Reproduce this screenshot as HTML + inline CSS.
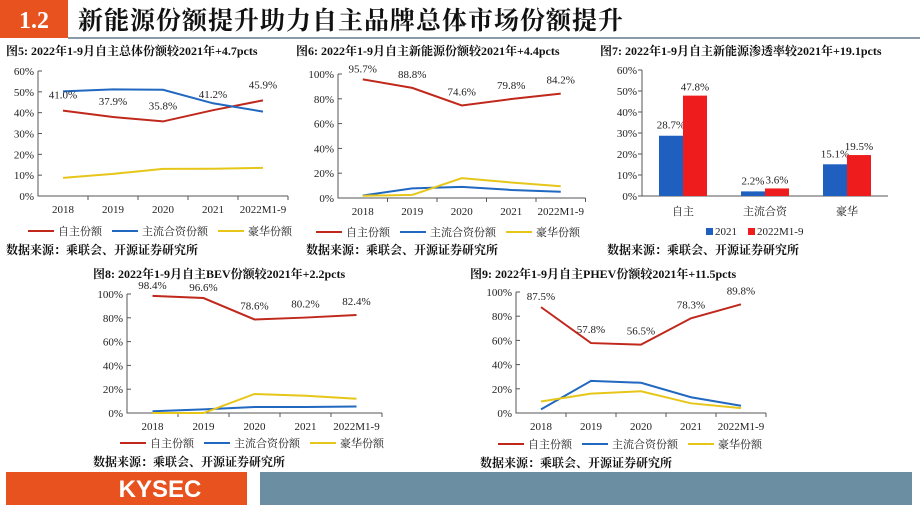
<!DOCTYPE html>
<html><head><meta charset="utf-8">
<style>
html,body{margin:0;padding:0;background:#fff;}
svg{display:block;font-family:"Liberation Serif","Noto Serif CJK SC",serif;}
</style></head><body>
<svg id="s" width="920" height="518" viewBox="0 0 920 518" xmlns="http://www.w3.org/2000/svg">
<rect x="0" y="0" width="68" height="38" fill="#e8521e"/>
<text x="34" y="28" text-anchor="middle" fill="#fff" font-size="24" font-weight="bold">1.2</text>
<text x="78" y="29" fill="#111" font-size="25" font-weight="bold" letter-spacing="1">新能源份额提升助力自主品牌总体市场份额提升</text>
<line x1="68" y1="38" x2="920" y2="38" stroke="#8a9aa8" stroke-width="2"/>
<rect x="6" y="472" width="241" height="33" fill="#e8521e"/>
<text x="160" y="497" text-anchor="middle" fill="#fff" font-size="24" font-weight="bold" font-family="Liberation Sans, sans-serif">KYSEC</text>
<rect x="260" y="472" width="652" height="33" fill="#6b8ea3"/>
<g id="g"></g>
</svg>
<script>
const years = ["2018","2019","2020","2021","2022M1-9"];
const seriesNames = ["自主份额","主流合资份额","豪华份额"];
const c5Own = [41.0,37.9,35.8,41.2,45.9];
const c5Jv = [50.2,51.2,51.0,44.5,40.5];
const c5Lux = [8.7,10.6,13.0,13.1,13.5];
const c5Ticks = ["0%","10%","20%","30%","40%","50%","60%"];
const c6Own = [95.7,88.8,74.6,79.8,84.2];
const c6Jv = [2.0,7.8,9.0,6.5,5.0];
const c6Lux = [1.8,2.5,16.0,12.5,9.5];
const c8Own = [98.4,96.6,78.6,80.2,82.4];
const c8Jv = [1.5,3.0,5.0,5.0,5.5];
const c8Lux = [0,0,16.0,14.5,12.0];
const c9Own = [87.5,57.8,56.5,78.3,89.8];
const c9Jv = [3.0,26.5,25.0,13.0,6.0];
const c9Lux = [9.5,16.0,18.0,8.0,4.0];
const pctTicks100 = ["0%","20%","40%","60%","80%","100%"];
const c7Cats = ["自主","主流合资","豪华"];
const c7Y2021 = [28.7,2.2,15.1];
const c7Y2022 = [47.8,3.6,19.5];
const c7Series = ["2021","2022M1-9"];

const NS="http://www.w3.org/2000/svg", G=document.getElementById('g');
function el(t,a,txt){const e=document.createElementNS(NS,t);for(const k in a)e.setAttribute(k,a[k]);if(txt!==undefined)e.textContent=txt;G.appendChild(e);return e;}
const COL=["#c0281c","#2068c0","#e6c619"];

function lineChart(o){
  const t=el('text',{x:o.tx,y:o.ty,'font-size':12,'font-weight':'bold',fill:'#111'},o.title);
  
  const y=v=>o.y0-(v/o.max)*(o.y0-o.y1);
  const x=i=>o.x0+o.step*(i+0.5);
  const xe=o.x0+o.step*years.length;
  o.ticks.forEach((lab,i)=>{const v=o.max*i/(o.ticks.length-1);
    const e=el('text',{x:o.x0-4,y:y(v)+4,'text-anchor':'end','font-size':11,fill:'#222'},lab);
    
    const l=el('line',{x1:o.x0,x2:o.x0+4,y1:y(v),y2:y(v),stroke:'#555'});
    });
  const ax=el('path',{d:`M${o.x0},${o.y1}V${o.y0}H${xe}`,stroke:'#555',fill:'none'});
  
  years.forEach((c,i)=>{const tm=el('line',{x1:o.x0+o.step*(i+1),x2:o.x0+o.step*(i+1),y1:o.y0,y2:o.y0+4,stroke:'#555'});
    
    const e=el('text',{x:x(i),y:o.y0+17,'text-anchor':'middle','font-size':11,fill:'#222'},c);
    });
  o.series.forEach((s,k)=>{
    const p=el('polyline',{points:s.map((v,i)=>x(i)+','+y(v)).join(' '),fill:'none',stroke:COL[k],'stroke-width':2});
    });
  o.series[0].forEach((v,i)=>{const e=el('text',{x:x(i)+(o.lx?o.lx[i]:0),y:y(v)+(o.ly?o.ly[i]:-8),'text-anchor':'middle','font-size':11,fill:'#222'},v.toFixed(1)+'%');
    });
  let lx=o.legx;
  seriesNames.forEach((n,k)=>{const l=el('line',{x1:lx,x2:lx+26,y1:o.legy,y2:o.legy,stroke:COL[k],'stroke-width':2});
    
    const e=el('text',{x:lx+30,y:o.legy+4,'font-size':11,fill:'#222'},n);
    
    lx+=30+n.length*11+10;});
  const s=el('text',{x:o.sx,y:o.sy,'font-size':12,'font-weight':'bold',fill:'#111'},'数据来源：乘联会、开源证券研究所');
  
}
lineChart({id:'fig5',title:'图5:  2022年1-9月自主总体份额较2021年+4.7pcts',tx:6,ty:55,x0:38,step:50,y0:196,y1:71,max:60,ticks:c5Ticks,
  series:[c5Own,c5Jv,c5Lux],ly:[-12,-12,-12,-12,-12],legx:28,legy:231,sx:6,sy:254});
lineChart({id:'fig6',title:'图6:  2022年1-9月自主新能源份额较2021年+4.4pcts',tx:296,ty:55,x0:338,step:49.5,y0:198,y1:74,max:100,ticks:pctTicks100,
  series:[c6Own,c6Jv,c6Lux],ly:[-7,-10,-10,-10,-10],legx:316,legy:232,sx:306,sy:254});
lineChart({id:'fig8',title:'图8:  2022年1-9月自主BEV份额较2021年+2.2pcts',tx:93,ty:278,x0:127,step:51,y0:413,y1:294,max:100,ticks:pctTicks100,
  series:[c8Own,c8Jv,c8Lux],ly:[-7,-7,-10,-10,-10],legx:120,legy:443,sx:93,sy:466});
lineChart({id:'fig9',title:'图9:  2022年1-9月自主PHEV份额较2021年+11.5pcts',tx:470,ty:278,x0:516,step:50,y0:413,y1:292,max:100,ticks:pctTicks100,
  series:[c9Own,c9Jv,c9Lux],ly:[-7,-10,-10,-10,-10],legx:498,legy:444,sx:480,sy:467});

// Fig 7 bar chart
(function(){
  const x0=642,y0=196,y1=70,max=60,step=82;
  const y=v=>y0-(v/max)*(y0-y1);
  let e=el('text',{x:600,y:55,'font-size':12,'font-weight':'bold',fill:'#111'},'图7:  2022年1-9月自主新能源渗透率较2021年+19.1pcts');
  
  for(let i=0;i<=6;i++){const v=max*i/6;
    e=el('text',{x:x0-5,y:y(v)+4,'text-anchor':'end','font-size':11,fill:'#222'},(v)+'%');
    
    const l=el('line',{x1:x0-4,x2:x0,y1:y(v),y2:y(v),stroke:'#555'});
    }
  e=el('path',{d:`M${x0},${y1}V${y0}H${x0+step*3}`,stroke:'#555',fill:'none'});
  
  c7Cats.forEach((c,i)=>{const cx=x0+step*(i+0.5);
    e=el('text',{x:cx,y:y0+19,'text-anchor':'middle','font-size':11,fill:'#222'},c);
    
    [[c7Y2021,'#1f5fc0',-24],[c7Y2022,'#ee1c1c',0]].forEach(([arr,col,off],k)=>{
      const v=arr[i];
      const r=el('rect',{x:cx+off,y:y(v),width:24,height:y0-y(v),fill:col});
      
      const t=el('text',{x:cx+off+12,y:y(v)-(k?5:7)+(k?0:0),'text-anchor':'middle','font-size':11,fill:'#222'},v.toFixed(1)+'%');
      });
  });
  let lx=706;
  c7Series.forEach((n,k)=>{const r=el('rect',{x:lx,y:228,width:7,height:7,fill:k?'#ee1c1c':'#1f5fc0'});
    
    const t=el('text',{x:lx+9,y:235,'font-size':11,fill:'#222'},n);
    
    lx+=42;});
  e=el('text',{x:607,y:254,'font-size':12,'font-weight':'bold',fill:'#111'},'数据来源：乘联会、开源证券研究所');
  
})();
</script>
</body></html>
